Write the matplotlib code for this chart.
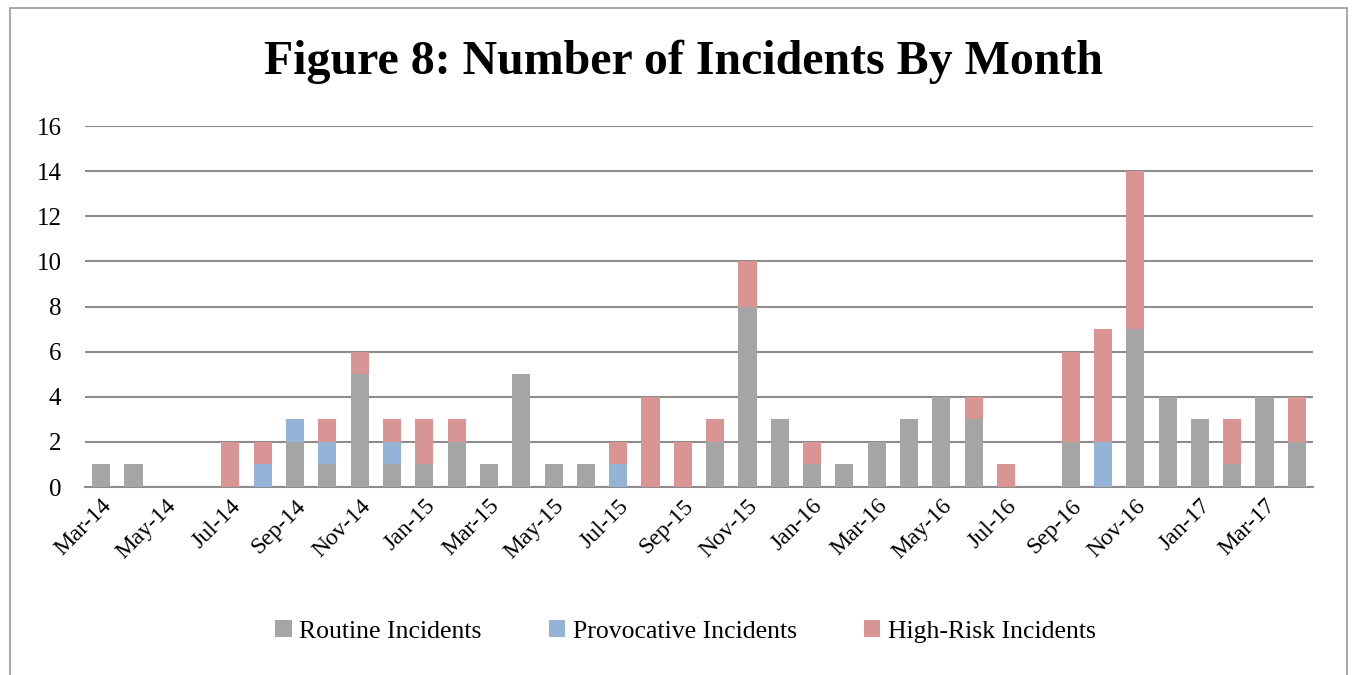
import numpy as np
import matplotlib.pyplot as plt
from matplotlib.patches import Rectangle

# months Mar-14 .. Apr-17
months = ["Mar-14", "Apr-14", "May-14", "Jun-14", "Jul-14", "Aug-14", "Sep-14", "Oct-14",
          "Nov-14", "Dec-14", "Jan-15", "Feb-15", "Mar-15", "Apr-15", "May-15", "Jun-15",
          "Jul-15", "Aug-15", "Sep-15", "Oct-15", "Nov-15", "Dec-15", "Jan-16", "Feb-16",
          "Mar-16", "Apr-16", "May-16", "Jun-16", "Jul-16", "Aug-16", "Sep-16", "Oct-16",
          "Nov-16", "Dec-16", "Jan-17", "Feb-17", "Mar-17", "Apr-17"]
routine = [1, 1, 0, 0, 0, 0, 2, 1, 5, 1, 1, 2, 1, 5, 1, 1, 0, 0, 0, 2, 8, 3, 1, 1,
           2, 3, 4, 3, 0, 0, 2, 0, 7, 4, 3, 1, 4, 2]
provocative = [0, 0, 0, 0, 0, 1, 1, 1, 0, 1, 0, 0, 0, 0, 0, 0, 1, 0, 0, 0, 0, 0, 0, 0,
               0, 0, 0, 0, 0, 0, 0, 2, 0, 0, 0, 0, 0, 0]
high_risk = [0, 0, 0, 0, 2, 1, 0, 1, 1, 1, 2, 1, 0, 0, 0, 0, 1, 4, 2, 1, 2, 0, 1, 0,
             0, 0, 0, 1, 1, 0, 4, 5, 7, 0, 0, 2, 0, 2]

plt.rcParams['font.family'] = ['Liberation Serif', 'DejaVu Serif']

fig = plt.figure(figsize=(13.54, 6.75), dpi=100)
ax = fig.add_axes([0.0628, 0.2785, 0.9069, 0.5348])

x = np.arange(len(months))
r = np.array(routine)
p = np.array(provocative)
h = np.array(high_risk)
w = 0.56
ax.bar(x, r, w, color="#A5A5A5", label="Routine Incidents", zorder=3)
ax.bar(x, p, w, bottom=r, color="#95B3D7", label="Provocative Incidents", zorder=3)
ax.bar(x, h, w, bottom=r + p, color="#D99594", label="High-Risk Incidents", zorder=3)

ax.set_xlim(-0.5, len(months) - 0.5)
ax.set_ylim(0, 16)
ax.set_yticks(range(0, 17, 2))
ax.yaxis.grid(True, color="#8C8C8C", linewidth=1.5, zorder=0)
ax.set_axisbelow(True)
for s in ["top", "right", "left"]:
    ax.spines[s].set_visible(False)
ax.spines["bottom"].set_color("#8C8C8C")
ax.spines["bottom"].set_linewidth(1.5)
ax.tick_params(axis="y", length=0, labelsize=18, pad=17)
ax.tick_params(axis="x", length=0, labelsize=17, pad=6)
ax.set_xticks(x[::2])
ax.set_xticklabels(months[::2], rotation=45, ha="right", rotation_mode="anchor")

fig.text(0.505, 0.908, "Figure 8: Number of Incidents By Month", ha="center", va="center",
         fontsize=34.5, fontweight="bold")

ax.legend(loc="center", bbox_to_anchor=(0.489, -0.40), ncol=3, frameon=False,
          fontsize=18.5, handlelength=0.65, handleheight=0.65, handletextpad=0.3,
          columnspacing=2.6)

fig.patches.append(Rectangle((10 / 1354, -0.01), 1337 / 1354, 1 - 8 / 675 + 0.01,
                             transform=fig.transFigure, fill=False,
                             edgecolor="#9A9A9A", linewidth=1.2))

fig.savefig("out.png", dpi=100)
